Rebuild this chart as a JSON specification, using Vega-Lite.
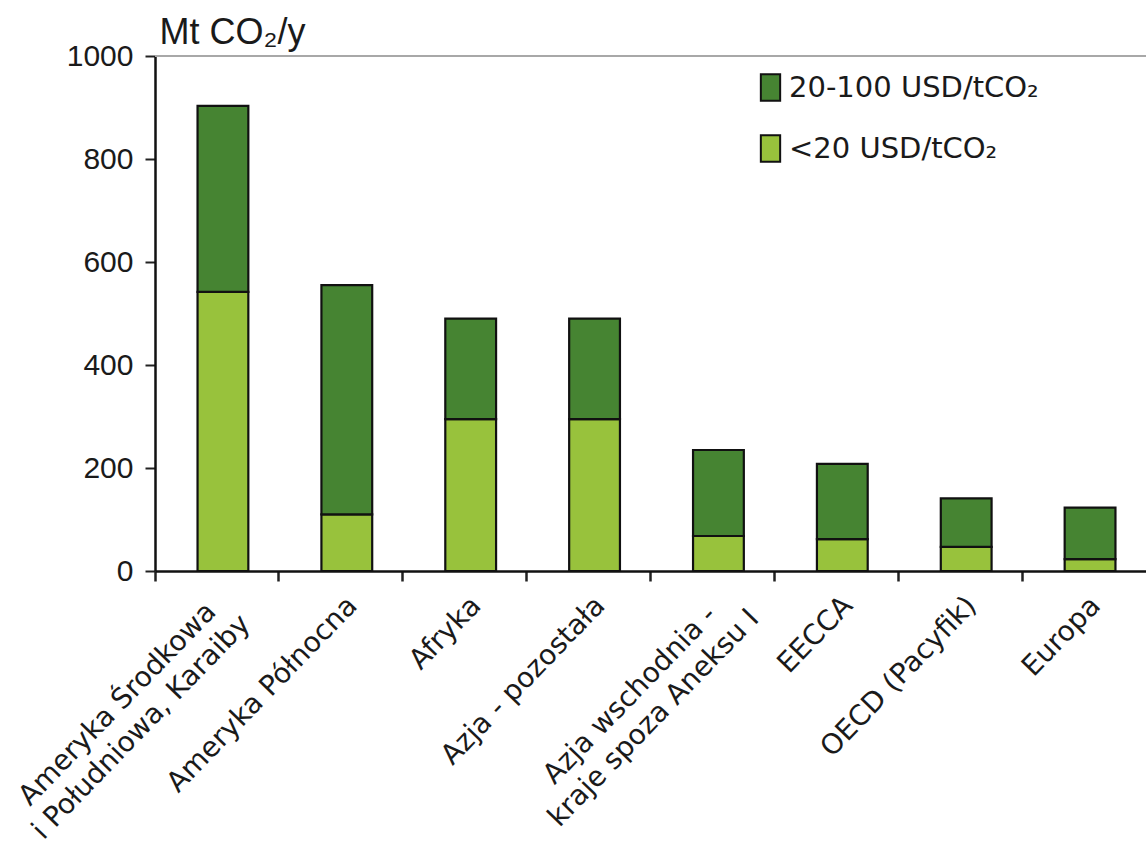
{
  "$schema": "https://vega.github.io/schema/vega-lite/v6.json",
  "width": 991,
  "height": 515,
  "autosize": {"type": "none"},
  "padding": {"left": 155, "top": 56, "right": 0, "bottom": 278},
  "background": "white",
  "config": {"view": {"stroke": null}},
  "data": {
    "values": [
      {"region": "Ameryka Środkowa\ni Południowa, Karaiby", "typ": "<20 USD/tCO₂", "value": 542},
      {"region": "Ameryka Środkowa\ni Południowa, Karaiby", "typ": "20-100 USD/tCO₂", "value": 361},
      {"region": "Ameryka Północna", "typ": "<20 USD/tCO₂", "value": 110},
      {"region": "Ameryka Północna", "typ": "20-100 USD/tCO₂", "value": 445},
      {"region": "Afryka", "typ": "<20 USD/tCO₂", "value": 295},
      {"region": "Afryka", "typ": "20-100 USD/tCO₂", "value": 195},
      {"region": "Azja - pozostała", "typ": "<20 USD/tCO₂", "value": 295},
      {"region": "Azja - pozostała", "typ": "20-100 USD/tCO₂", "value": 195},
      {"region": "Azja wschodnia -\nkraje spoza Aneksu I", "typ": "<20 USD/tCO₂", "value": 68},
      {"region": "Azja wschodnia -\nkraje spoza Aneksu I", "typ": "20-100 USD/tCO₂", "value": 167},
      {"region": "EECCA", "typ": "<20 USD/tCO₂", "value": 62},
      {"region": "EECCA", "typ": "20-100 USD/tCO₂", "value": 146},
      {"region": "OECD (Pacyfik)", "typ": "<20 USD/tCO₂", "value": 47},
      {"region": "OECD (Pacyfik)", "typ": "20-100 USD/tCO₂", "value": 94},
      {"region": "Europa", "typ": "<20 USD/tCO₂", "value": 23},
      {"region": "Europa", "typ": "20-100 USD/tCO₂", "value": 100}
    ]
  },
  "layer": [
    {
      "mark": {"type": "rule", "color": "#a8a8a8", "strokeWidth": 2},
      "encoding": {"y": {"datum": 1000, "type": "quantitative"}}
    },
    {
      "mark": {"type": "bar", "stroke": "#111111", "strokeWidth": 2.2, "width": {"band": 0.41}, "xOffset": 6},
      "encoding": {
        "x": {
          "field": "region",
          "type": "nominal",
          "sort": null,
          "scale": {"paddingInner": 0, "paddingOuter": 0},
          "axis": {
            "title": null,
            "labelAngle": -46,
            "labelAlign": {
              "condition": {"test": "indexof(datum.value, '\\n') >= 0", "value": "center"},
              "value": "right"
            },
            "labelBaseline": "middle",
            "labelFont": "DejaVu Sans",
            "labelFontSize": 28,
            "labelColor": "#1a1a1a",
            "labelLineHeight": 33,
            "labelPadding": {
              "condition": [
                {"test": "indexof(datum.value, 'Karaiby') >= 0", "value": 123},
                {"test": "indexof(datum.value, 'Aneksu') >= 0", "value": 114}
              ],
              "value": 20
            },
            "labelOffset": {
              "condition": [
                {"test": "indexof(datum.value, 'Karaiby') >= 0", "value": -99},
                {"test": "indexof(datum.value, 'Aneksu') >= 0", "value": -82}
              ],
              "value": 12
            },
            "labelLimit": 0,
            "labelExpr": "split(datum.label, '\\n')",
            "bandPosition": 0,
            "domainColor": "#111111",
            "domainWidth": 2.5,
            "tickColor": "#222222",
            "tickWidth": 2.5,
            "tickSize": 10,
            "labelOverlap": false,
            "labelBound": false
          }
        },
        "y": {
          "field": "value",
          "type": "quantitative",
          "stack": "zero",
          "scale": {"domain": [0, 1000], "nice": false},
          "axis": {
            "title": "Mt CO₂/y",
            "titleAngle": 0,
            "titleX": 4,
            "titleY": -13,
            "titleAlign": "left",
            "titleBaseline": "alphabetic",
            "titleFont": "Liberation Sans",
            "titleFontSize": 36,
            "titleFontWeight": "normal",
            "titleColor": "#1a1a1a",
            "values": [0, 200, 400, 600, 800, 1000],
            "format": "d",
            "labelFont": "Liberation Sans",
            "labelFontSize": 30,
            "labelColor": "#1a1a1a",
            "labelPadding": 12,
            "grid": false,
            "domainColor": "#111111",
            "domainWidth": 2.5,
            "tickColor": "#222222",
            "tickWidth": 2,
            "tickSize": 10
          }
        },
        "color": {
          "field": "typ",
          "type": "nominal",
          "scale": {"domain": ["20-100 USD/tCO₂", "<20 USD/tCO₂"], "range": ["#468432", "#98c23c"]},
          "legend": {
            "title": null,
            "orient": "none",
            "legendX": 601,
            "legendY": 17,
            "symbolType": "M-0.73,-1H0.73V1H-0.73Z",
            "symbolSize": 700,
            "symbolStrokeColor": "#111111",
            "symbolStrokeWidth": 2,
            "symbolOpacity": 1,
            "labelFont": "DejaVu Sans",
            "labelFontSize": 29,
            "labelColor": "#1a1a1a",
            "labelOffset": 4,
            "labelLimit": 0,
            "rowPadding": 26,
            "padding": 0
          }
        },
        "order": {"field": "typ", "sort": "descending"}
      }
    }
  ]
}
